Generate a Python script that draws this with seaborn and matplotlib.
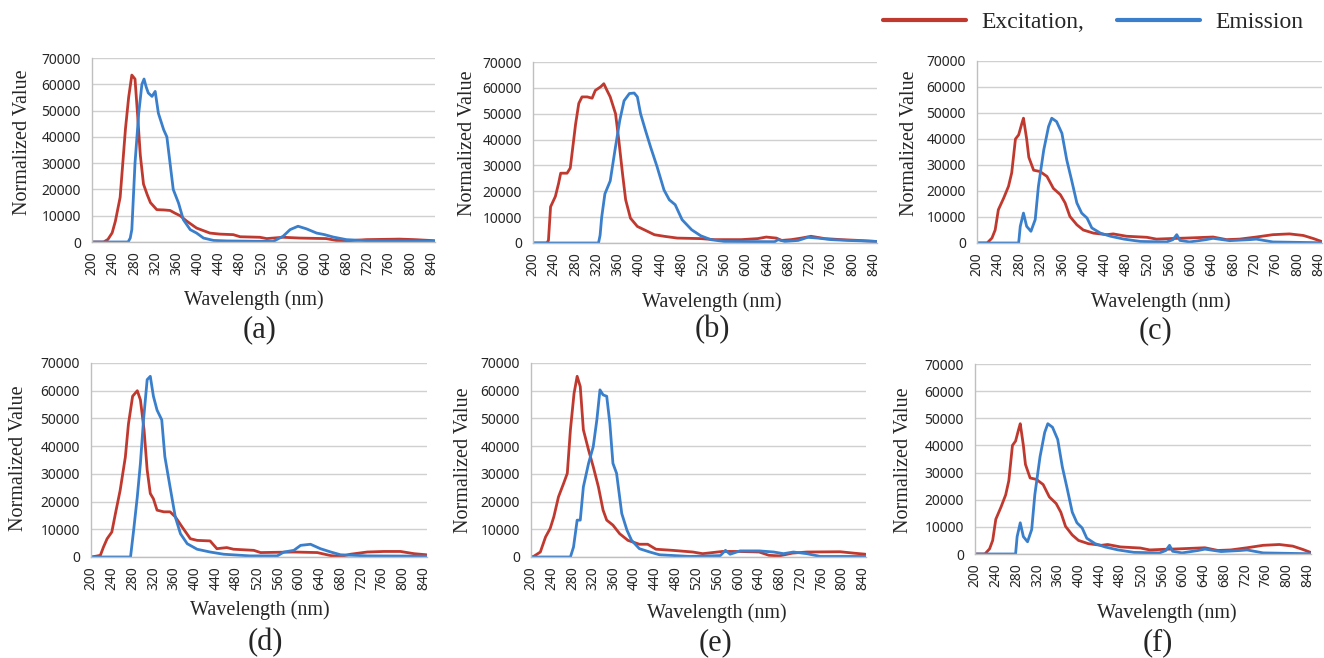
import matplotlib
matplotlib.use("Agg")
import matplotlib.pyplot as plt
import seaborn as sns

# ---------------- datos ----------------
# (a)
a_ex_wl = [200, 222, 230, 238, 244, 253, 263, 269, 275, 281, 286, 291, 297, 304, 310, 322, 335, 347, 356, 366, 378, 397, 422, 441, 466, 479, 516, 529, 560, 591, 641, 660, 685, 717, 748, 779, 808, 845]
a_ex_val = [0, 0, 1000, 3500, 7900, 17000, 43000, 55000, 63500, 62000, 48000, 33000, 22000, 18000, 15000, 12300, 12200, 12000, 11000, 10000, 8000, 5300, 3400, 3000, 2800, 2000, 1800, 1300, 1800, 1500, 1300, 600, 500, 900, 1000, 1100, 900, 500]
a_em_wl = [200, 268, 272, 275, 281, 288, 294, 298, 302, 306, 313, 319, 325, 335, 341, 347, 353, 363, 372, 385, 397, 410, 429, 454, 541, 560, 573, 588, 604, 623, 638, 654, 679, 717, 845]
a_em_val = [0, 0, 1500, 4700, 30000, 49000, 60000, 62000, 59000, 56700, 55400, 57300, 49000, 42700, 40000, 30000, 20000, 14800, 8500, 4700, 3400, 1500, 600, 400, 200, 2200, 4700, 6000, 5000, 3400, 2800, 1900, 900, 500, 300]

# (b)
b_ex_wl = [200, 226, 229, 233, 242, 248, 252, 264, 270, 280, 286, 292, 302, 311, 317, 327, 333, 339, 345, 355, 361, 368, 374, 383, 396, 409, 428, 446, 471, 515, 540, 591, 622, 638, 657, 667, 685, 704, 722, 748, 779, 811, 845]
b_ex_val = [0, 0, 1000, 14000, 18000, 23000, 27000, 27000, 29000, 46000, 54000, 56500, 56500, 56000, 59000, 60400, 61600, 59000, 56500, 50000, 40000, 27000, 16700, 9600, 6400, 5100, 3200, 2600, 1900, 1700, 1300, 1300, 1700, 2300, 1900, 1000, 1300, 1900, 2600, 1700, 1300, 1000, 600]
b_em_wl = [200, 323, 326, 329, 335, 345, 354, 363, 371, 381, 390, 396, 402, 411, 421, 433, 446, 456, 467, 480, 498, 515, 534, 559, 654, 660, 673, 698, 716, 735, 760, 791, 845]
b_em_val = [0, 0, 3000, 10000, 19000, 24000, 36000, 47500, 55000, 57800, 58000, 56500, 50000, 43700, 37000, 29500, 20500, 16700, 14800, 9000, 5100, 2800, 1300, 600, 500, 1300, 600, 1000, 2200, 1900, 1300, 1000, 600]

# (c) y (f) son iguales en la figura
c_ex_wl = [200, 219, 228, 234, 240, 250, 259, 265, 272, 278, 284, 287, 293, 297, 306, 318, 331, 343, 356, 365, 374, 387, 399, 418, 443, 455, 480, 518, 536, 561, 592, 642, 667, 692, 723, 754, 785, 811, 830, 845]
c_ex_val = [0, 0, 1900, 5000, 12800, 17300, 21800, 27000, 40000, 41600, 46000, 48000, 40000, 33000, 28000, 27500, 25600, 21000, 18600, 15400, 10200, 7000, 5000, 3800, 3200, 3500, 2600, 2200, 1500, 1700, 1900, 2300, 1300, 1500, 2300, 3200, 3500, 2900, 1700, 600]
c_em_wl = [200, 278, 281, 287, 293, 301, 309, 315, 325, 334, 340, 349, 359, 368, 377, 387, 396, 406, 415, 431, 450, 475, 506, 555, 567, 574, 580, 598, 629, 642, 673, 711, 723, 754, 845]
c_em_val = [0, 0, 6400, 11500, 6400, 4500, 9000, 21800, 35800, 44800, 48000, 46700, 42200, 32000, 24300, 15400, 11500, 9600, 5800, 3800, 2600, 1500, 600, 400, 1300, 3200, 1000, 400, 1300, 1800, 900, 1300, 1500, 400, 100]

# (d)
d_ex_wl = [200, 210, 218, 224, 231, 240, 247, 256, 266, 272, 280, 289, 295, 302, 308, 314, 320, 327, 340, 352, 362, 375, 391, 404, 429, 442, 461, 474, 513, 526, 590, 635, 661, 680, 699, 731, 763, 795, 821, 845]
d_ex_val = [0, 300, 600, 3600, 6600, 9000, 15700, 24000, 36000, 48000, 58000, 60000, 56700, 45900, 31400, 22900, 21000, 16900, 16300, 16300, 14500, 10900, 6600, 6000, 5800, 3000, 3400, 2800, 2400, 1600, 1800, 1600, 500, 200, 1000, 1800, 2000, 2000, 1200, 800]
d_em_wl = [200, 276, 282, 289, 295, 301, 308, 314, 320, 327, 336, 342, 352, 362, 372, 385, 404, 429, 455, 506, 558, 571, 590, 603, 622, 641, 661, 680, 731, 845]
d_em_val = [0, 0, 9700, 21700, 33800, 49500, 64000, 65200, 58000, 53000, 49500, 36200, 25300, 14500, 8400, 4800, 2800, 1800, 1000, 400, 400, 1800, 2400, 4200, 4600, 3000, 1800, 800, 400, 300]

# (e)
e_ex_wl = [200, 205, 218, 228, 237, 244, 253, 263, 270, 276, 283, 289, 295, 301, 311, 320, 330, 339, 346, 358, 371, 387, 409, 425, 441, 473, 512, 531, 569, 601, 640, 659, 679, 704, 732, 796, 822, 845]
e_ex_val = [0, 200, 1800, 7200, 10300, 14500, 21700, 26600, 30200, 45900, 59000, 65200, 61500, 45900, 38600, 32600, 25300, 16900, 13300, 11500, 8400, 6000, 4600, 4600, 2800, 2400, 1800, 1200, 2000, 2000, 1800, 600, 400, 1400, 1800, 1900, 1400, 1000]
e_em_wl = [200, 276, 282, 289, 295, 301, 311, 320, 327, 333, 339, 346, 352, 358, 365, 375, 385, 394, 409, 429, 448, 507, 565, 575, 584, 603, 640, 668, 687, 706, 732, 758, 845]
e_em_val = [0, 0, 3600, 13300, 13300, 25300, 33800, 39800, 49500, 60300, 58500, 58000, 48300, 33800, 30200, 15700, 9700, 6000, 3000, 1800, 800, 200, 500, 2400, 1000, 2200, 2200, 1800, 1200, 1800, 1200, 200, 200]

paneles = ["(a)", "(b)", "(c)", "(d)", "(e)", "(f)"]
excitacion = [(a_ex_wl, a_ex_val), (b_ex_wl, b_ex_val), (c_ex_wl, c_ex_val),
              (d_ex_wl, d_ex_val), (e_ex_wl, e_ex_val), (c_ex_wl, c_ex_val)]
emision = [(a_em_wl, a_em_val), (b_em_wl, b_em_val), (c_em_wl, c_em_val),
           (d_em_wl, d_em_val), (e_em_wl, e_em_val), (c_em_wl, c_em_val)]

x_ticks = list(range(200, 841, 40))
y_ticks = list(range(0, 70001, 10000))

# ---------------- estilo ----------------
sns.set_style("white")
plt.rcParams['font.family'] = ['Noto Sans', 'DejaVu Sans']
SERIF = 'Liberation Serif'
ROJO = '#C0392F'
AZUL = '#3A7FCB'

W, H = 1324, 658
fig = plt.figure(figsize=(W / 100, H / 100), dpi=100)

# cajas de los ejes en pixeles: izquierda, derecha, arriba, abajo
cajas = [(92, 435, 58, 242), (533, 877, 62, 243), (977, 1322, 61, 243),
         (91, 427, 363, 557), (531, 866, 363, 557), (975, 1311, 364, 554)]
# centros de etiquetas (pixeles)
pos_ylabel = [(23, 142), (468, 143), (910, 143), (19, 458), (463, 460), (904, 460)]
pos_xlabel = [(254, 300), (712, 302), (1161, 302), (260, 610), (717, 613), (1167, 613)]
pos_letra = [(260, 330), (712, 330), (1155, 331), (265, 643), (715, 643), (1158, 643)]

ejes = []
for i, (l, r, t, b) in enumerate(cajas):
    ax = fig.add_axes([l / W, 1 - b / H, (r - l) / W, (b - t) / H])
    ejes.append(ax)
    wl, val = excitacion[i]
    sns.lineplot(x=wl, y=val, ax=ax, color=ROJO, lw=2.0,
                 label='Excitation,' if i == 0 else None, legend=(i == 0))
    wl, val = emision[i]
    sns.lineplot(x=wl, y=val, ax=ax, color=AZUL, lw=2.0,
                 label='Emission' if i == 0 else None, legend=(i == 0))

    ax.set_xlim(200, 846)
    ax.set_ylim(0, 70000)
    ax.set_xticks(x_ticks)
    ax.set_yticks(y_ticks)
    ax.set_xticklabels([str(v) for v in x_ticks], rotation=90)
    ax.tick_params(axis='y', length=0, pad=8, labelsize=10, labelcolor='#262626')
    ax.tick_params(axis='x', length=4, width=0.8, color='#BFBFBF', pad=3,
                   labelsize=10, labelcolor='#262626')
    ax.grid(axis='y', color='#D0D0D0', lw=1.0)
    ax.grid(axis='x', visible=False)
    ax.set_axisbelow(True)
    for s in ['top', 'right']:
        ax.spines[s].set_visible(False)
    for s in ['left', 'bottom']:
        ax.spines[s].set_color('#BFBFBF')
        ax.spines[s].set_linewidth(1.0)

    ax.set_ylabel('Normalized Value', family=SERIF, fontsize=14.5, va='center')
    ax.set_xlabel('Wavelength (nm)', family=SERIF, fontsize=14.5, va='center')
    yx, yy = pos_ylabel[i]
    ax.yaxis.set_label_coords((yx - l) / (r - l), (b - yy) / (b - t))
    xx, xy = pos_xlabel[i]
    ax.xaxis.set_label_coords((xx - l) / (r - l), (b - xy) / (b - t))

    cx, cy = pos_letra[i]
    fig.text(cx / W, 1 - cy / H, paneles[i], family=SERIF, fontsize=22,
             ha='center', va='center')

# leyenda común arriba a la derecha
handles, labels = ejes[0].get_legend_handles_labels()
ejes[0].get_legend().remove()
leg = fig.legend(handles, labels, loc='center left', bbox_to_anchor=(883 / W, 1 - 22 / H),
                 ncol=2, frameon=False, borderpad=0, borderaxespad=0,
                 handlelength=3.5, handletextpad=0.65, columnspacing=1.4,
                 prop={'family': SERIF, 'size': 17})
for ln in leg.get_lines():
    ln.set_linewidth(3)

fig.savefig('out.png', dpi=100)
